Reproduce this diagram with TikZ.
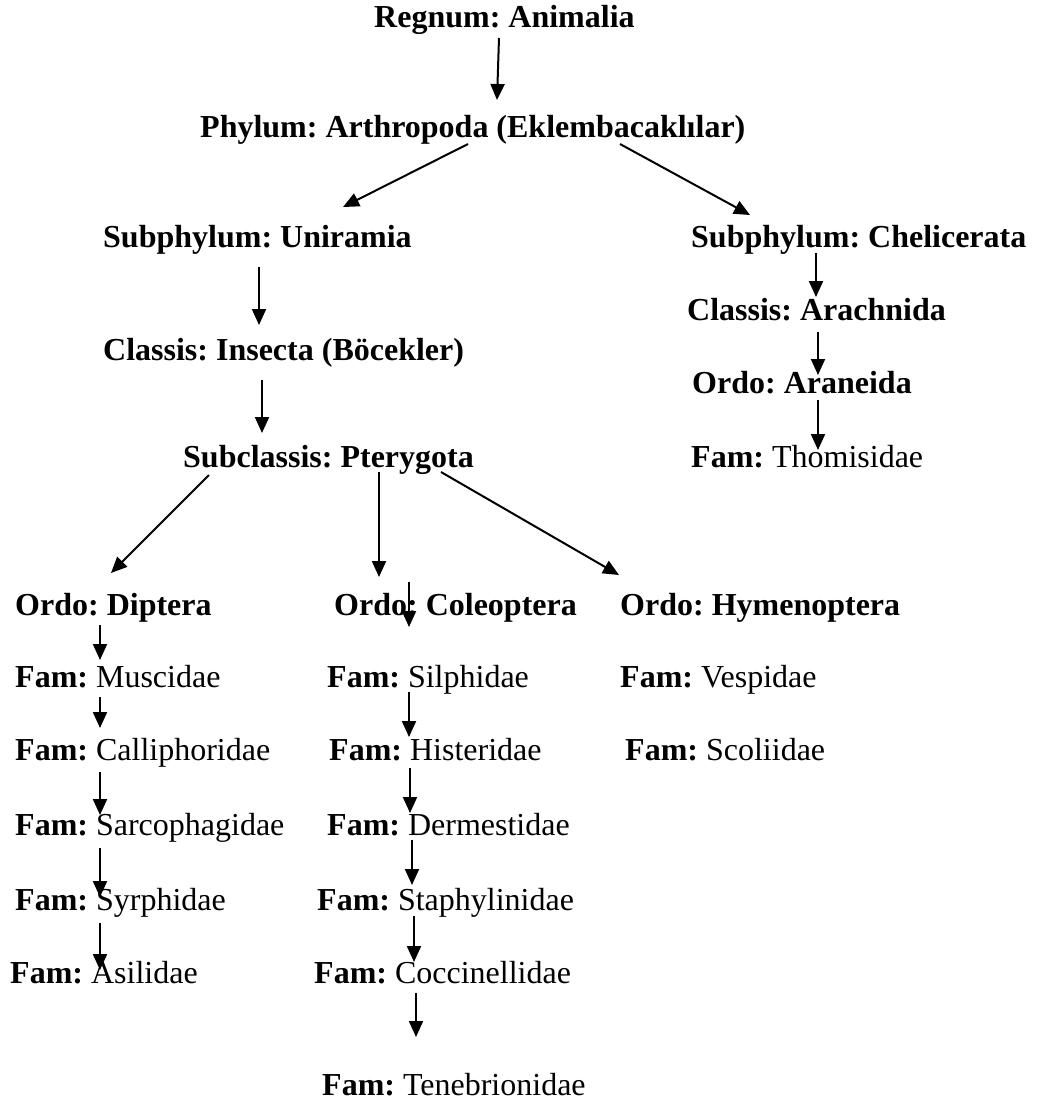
\documentclass[tikz,border=0pt]{standalone}
\usepackage{fontspec}
\setmainfont{Liberation Serif}
\usetikzlibrary{arrows.meta}
\tikzset{
  lbl/.style={anchor=base west, inner sep=0pt, font=\fontsize{32}{38}\selectfont\frenchspacing},
  arr/.style={-{Triangle[length=16pt,width=14pt]}, line width=2pt}
}
\begin{document}
\begin{tikzpicture}[x=1pt,y=-1pt]
\useasboundingbox (0,0) rectangle (1043,1104);
\node[lbl] (R) at (374,27) {\textbf{Regnum: Animalia}};
\node[lbl] (P) at (200,137) {\textbf{Phylum: Arthropoda (Eklembacaklılar)}};
\node[lbl] (U) at (103,247) {\textbf{Subphylum: Uniramia}};
\node[lbl] (C) at (691,247) {\textbf{Subphylum: Chelicerata}};
\node[lbl] (I) at (103,360) {\textbf{Classis: Insecta (Böcekler)}};
\node[lbl] (Ar) at (687,320) {\textbf{Classis: Arachnida}};
\node[lbl] (An) at (692,393) {\textbf{Ordo: Araneida}};
\node[lbl] (Th) at (691,467) {\textbf{Fam:} Thomisidae};
\node[lbl] (Pt) at (183,467) {\textbf{Subclassis: Pterygota}};
\node[lbl] (Di) at (15,615) {\textbf{Ordo: Diptera}};
\node[lbl] (Co) at (334,615) {\textbf{Ordo: Coleoptera}};
\node[lbl] (Hy) at (620,615) {\textbf{Ordo: Hymenoptera}};
\node[lbl] (Mu) at (15,687) {\textbf{Fam:} Muscidae};
\node[lbl] (Si) at (327,687) {\textbf{Fam:} Silphidae};
\node[lbl] (Ve) at (620,687) {\textbf{Fam:} Vespidae};
\node[lbl] (Ca) at (15,760) {\textbf{Fam:} Calliphoridae};
\node[lbl] (Hi) at (329,760) {\textbf{Fam:} Histeridae};
\node[lbl] (Sc) at (625,760) {\textbf{Fam:} Scoliidae};
\node[lbl] (Sa) at (15,835) {\textbf{Fam:} Sarcophagidae};
\node[lbl] (De) at (327,835) {\textbf{Fam:} Dermestidae};
\node[lbl] (Sy) at (15,910) {\textbf{Fam:} Syrphidae};
\node[lbl] (St) at (317,910) {\textbf{Fam:} Staphylinidae};
\node[lbl] (As) at (10,983) {\textbf{Fam:} Asilidae};
\node[lbl] (Cc) at (314,983) {\textbf{Fam:} Coccinellidae};
\node[lbl] (Te) at (322,1095) {\textbf{Fam:} Tenebrionidae};

\draw[arr] ([shift={(125,11)}]R.base west) -- ([shift={(297,-37)}]P.base west);
\draw[arr] ([shift={(268,7)}]P.base west) -- ([shift={(240,-40)}]U.base west);
\draw[arr] ([shift={(420,7)}]P.base west) -- ([shift={(59,-32)}]C.base west);
\draw[arr] ([shift={(156,20)}]U.base west) -- ([shift={(156,-35)}]I.base west);
\draw[arr] ([shift={(125,6)}]C.base west) -- ([shift={(129,-23)}]Ar.base west);
\draw[arr] ([shift={(131,12)}]Ar.base west) -- ([shift={(126,-18)}]An.base west);
\draw[arr] ([shift={(126,7)}]An.base west) -- ([shift={(127,-17)}]Th.base west);
\draw[arr] ([shift={(159,20)}]I.base west) -- ([shift={(79,-34)}]Pt.base west);
\draw[arr] ([shift={(26,8)}]Pt.base west) -- ([shift={(96,-42)}]Di.base west);
\draw[arr] ([shift={(196,5)}]Pt.base west) -- ([shift={(45,-38)}]Co.base west);
\draw[arr] ([shift={(258,5)}]Pt.base west) -- ([shift={(-1,-40)}]Hy.base west);
\draw[arr] ([shift={(75,-33)}]Co.base west) -- ([shift={(82,-60)}]Si.base west);
\draw[arr] ([shift={(85,10)}]Di.base west) -- ([shift={(85,-27)}]Mu.base west);
\draw[arr] ([shift={(85,10)}]Mu.base west) -- ([shift={(85,-32)}]Ca.base west);
\draw[arr] ([shift={(82,5)}]Si.base west) -- ([shift={(80,-23)}]Hi.base west);
\draw[arr] ([shift={(85,12)}]Ca.base west) -- ([shift={(85,-20)}]Sa.base west);
\draw[arr] ([shift={(81,8)}]Hi.base west) -- ([shift={(83,-22)}]De.base west);
\draw[arr] ([shift={(85,13)}]Sa.base west) -- ([shift={(85,-13)}]Sy.base west);
\draw[arr] ([shift={(85,5)}]De.base west) -- ([shift={(95,-25)}]St.base west);
\draw[arr] ([shift={(85,13)}]Sy.base west) -- ([shift={(90,-13)}]As.base west);
\draw[arr] ([shift={(97,6)}]St.base west) -- ([shift={(100,-21)}]Cc.base west);
\draw[arr] ([shift={(102,10)}]Cc.base west) -- ([shift={(94,-58)}]Te.base west);
\end{tikzpicture}
\end{document}
